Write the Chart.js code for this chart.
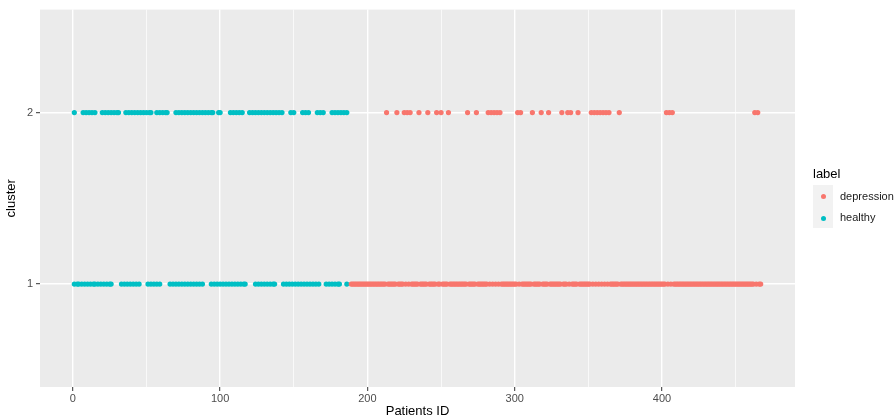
<!DOCTYPE html>
<html>
<head>
<meta charset="utf-8">
<script src="https://cdn.jsdelivr.net/npm/chart.js@4/dist/chart.umd.min.js"></script>
<style>
  html, body { margin: 0; padding: 0; background: #fff; }
  #wrap { position: relative; width: 895px; height: 420px; font-family: "Liberation Sans", Arial, sans-serif; }
  #legend { position: absolute; left: 813px; top: 166px; color: #000; }
  #legend .ttl { font-size: 13px; margin-bottom: 4px; }
  #legend .keys { position: absolute; left: 0; top: 19px; width: 20px; height: 43px; background: #F2F2F2; }
  #legend .item { position: absolute; left: 27px; font-size: 11px; color: #1a1a1a; white-space: nowrap; }
  #legend .dot { position: absolute; left: 8px; width: 5px; height: 5px; border-radius: 50%; }
</style>
</head>
<body>
<div id="wrap">
  <canvas id="chart" width="895" height="420"></canvas>
  <div id="legend">
    <div class="ttl">label</div>
    <div class="keys">
      <span class="dot" style="top:9px;background:#F8766D"></span>
      <span class="dot" style="top:31px;background:#00BFC4"></span>
    </div>
    <div class="item" style="top:24px">depression</div>
    <div class="item" style="top:45px">healthy</div>
  </div>
</div>
<script>
// ── Data (patient IDs per label / cluster) ────────────────────────────────────

const healthyCluster2 = [
  1, 7, 9, 11, 13, 15, 20, 22, 24, 26, 28, 30, 31,
  36, 38, 40, 42, 44, 46, 48, 50, 52, 53, 57, 59, 61, 63, 64,
  70, 72, 74, 76, 78, 80, 82, 84, 86, 88, 90, 92, 94, 95, 99, 100,
  107, 109, 111, 113, 115, 120, 122, 124, 126, 128, 130, 132, 134, 136, 138, 140, 142,
  148, 150, 156, 158, 160, 166, 168, 170, 176, 178, 180, 182, 184, 186
];

const healthyCluster1 = [
  1, 3, 4, 6, 8, 10, 12, 14, 15, 17, 19, 21, 23, 25, 26,
  33, 35, 37, 39, 41, 43, 45, 51, 53, 55, 57, 59,
  66, 68, 70, 72, 74, 76, 78, 80, 82, 84, 86, 88,
  94, 96, 98, 100, 102, 104, 106, 108, 110, 112, 114, 116, 117,
  124, 126, 128, 130, 132, 134, 136, 137,
  143, 145, 147, 149, 151, 153, 155, 157, 159, 161, 163, 165, 167,
  172, 174, 176, 178, 180, 181, 186
];

const depressionCluster2 = [
  213, 220, 225, 227, 229, 235, 241, 247, 250, 255, 268, 274, 282, 284, 286, 288,
  290, 302, 304, 312, 318, 323, 332, 336, 338, 343, 352, 354, 356, 358, 360, 362,
  364, 371, 403, 405, 407, 463, 465
];

const depressionCluster1 = [
  189, 190, 191, 192, 193, 194, 195, 196, 197, 198, 199, 200, 201, 202, 203, 204,
  205, 206, 207, 208, 209, 210, 211, 212, 214, 215, 216, 217, 218, 219, 221, 222,
  223, 224, 226, 228, 230, 231, 232, 233, 234, 236, 237, 238, 239, 240, 242, 243,
  244, 245, 246, 248, 249, 251, 252, 253, 254, 256, 257, 258, 259, 260, 261, 262,
  263, 264, 265, 266, 267, 269, 270, 271, 272, 273, 275, 276, 277, 278, 279, 280,
  281, 283, 285, 287, 289, 291, 292, 293, 294, 295, 296, 297, 298, 299, 300, 301,
  303, 305, 306, 307, 308, 309, 310, 311, 313, 314, 315, 316, 317, 319, 320, 321,
  322, 324, 325, 326, 327, 328, 329, 330, 331, 333, 334, 335, 337, 339, 340, 341,
  342, 344, 345, 346, 347, 348, 349, 350, 351, 353, 355, 357, 359, 361, 363, 365,
  366, 367, 368, 369, 370, 372, 373, 374, 375, 376, 377, 378, 379, 380, 381, 382,
  383, 384, 385, 386, 387, 388, 389, 390, 391, 392, 393, 394, 395, 396, 397, 398,
  399, 400, 401, 402, 404, 406, 408, 409, 410, 411, 412, 413, 414, 415, 416, 417,
  418, 419, 420, 421, 422, 423, 424, 425, 426, 427, 428, 429, 430, 431, 432, 433,
  434, 435, 436, 437, 438, 439, 440, 441, 442, 443, 444, 445, 446, 447, 448, 449,
  450, 451, 452, 453, 454, 455, 456, 457, 458, 459, 460, 461, 462, 464, 466, 467
];

const xMajorTicks = [0, 100, 200, 300, 400];
const xMinorTicks = [50, 150, 250, 350, 450];
const yTicks      = [1, 2];

// ── Helpers ───────────────────────────────────────────────────────────────────

const toPoints = (ids, cluster) => ids.map(id => ({ x: id, y: cluster }));

const panelBg = {
  id: 'panelBg',
  beforeDraw(chart) {
    const { ctx, chartArea: a } = chart;
    ctx.save();
    ctx.fillStyle = '#EBEBEB';
    ctx.fillRect(a.left, a.top, a.right - a.left, a.bottom - a.top);
    ctx.restore();
  },
};

const isMajor = v => xMajorTicks.includes(v);

// ── Chart ─────────────────────────────────────────────────────────────────────

new Chart(document.getElementById('chart'), {
  type: 'scatter',
  data: {
    datasets: [
      {
        label: 'depression',
        data: [...toPoints(depressionCluster1, 1), ...toPoints(depressionCluster2, 2)],
        backgroundColor: '#F8766D',
        borderWidth: 0,
        pointRadius: 2.6,
      },
      {
        label: 'healthy',
        data: [...toPoints(healthyCluster1, 1), ...toPoints(healthyCluster2, 2)],
        backgroundColor: '#00BFC4',
        borderWidth: 0,
        pointRadius: 2.6,
      },
    ],
  },
  options: {
    responsive: false,
    animation: false,
    layout: { padding: { top: 6, right: 100, bottom: 0, left: 0 } },
    plugins: { legend: { display: false }, tooltip: { enabled: false } },
    scales: {
      x: {
        type: 'linear',
        min: -22.3,
        max: 490.3,
        afterBuildTicks: s => { s.ticks = [...xMajorTicks, ...xMinorTicks].sort((a, b) => a - b).map(v => ({ value: v })); },
        afterFit: s => { s.height = 33; },
        border: { display: false },
        grid: {
          color: '#FFFFFF',
          lineWidth: c => isMajor(c.tick.value) ? 1.4 : 0.7,
          tickColor: c => isMajor(c.tick.value) ? '#333333' : 'rgba(0,0,0,0)',
          tickLength: 4,
          tickWidth: 1,
        },
        ticks: {
          color: '#4D4D4D',
          font: { family: 'Liberation Sans', size: 11 },
          padding: 1,
          maxRotation: 0,
          autoSkip: false,
          callback: v => isMajor(v) ? String(v) : '',
        },
        title: {
          display: true,
          text: 'Patients ID',
          color: '#000',
          font: { family: 'Liberation Sans', size: 13 },
          padding: { top: 0, bottom: 1 },
        },
      },
      y: {
        type: 'linear',
        min: 0.4,
        max: 2.6,
        afterBuildTicks: s => { s.ticks = yTicks.map(v => ({ value: v })); },
        afterFit: s => { s.width = 40; },
        border: { display: false },
        grid: {
          color: '#FFFFFF',
          lineWidth: 1.4,
          tickColor: '#333333',
          tickLength: 4,
          tickWidth: 1,
        },
        ticks: {
          color: '#4D4D4D',
          font: { family: 'Liberation Sans', size: 11 },
          padding: 3,
          callback: v => String(v),
        },
        title: {
          display: true,
          text: 'cluster',
          color: '#000',
          font: { family: 'Liberation Sans', size: 13 },
          padding: { top: 4, bottom: 0 },
        },
      },
    },
  },
  plugins: [panelBg],
});
</script>
</body>
</html>
